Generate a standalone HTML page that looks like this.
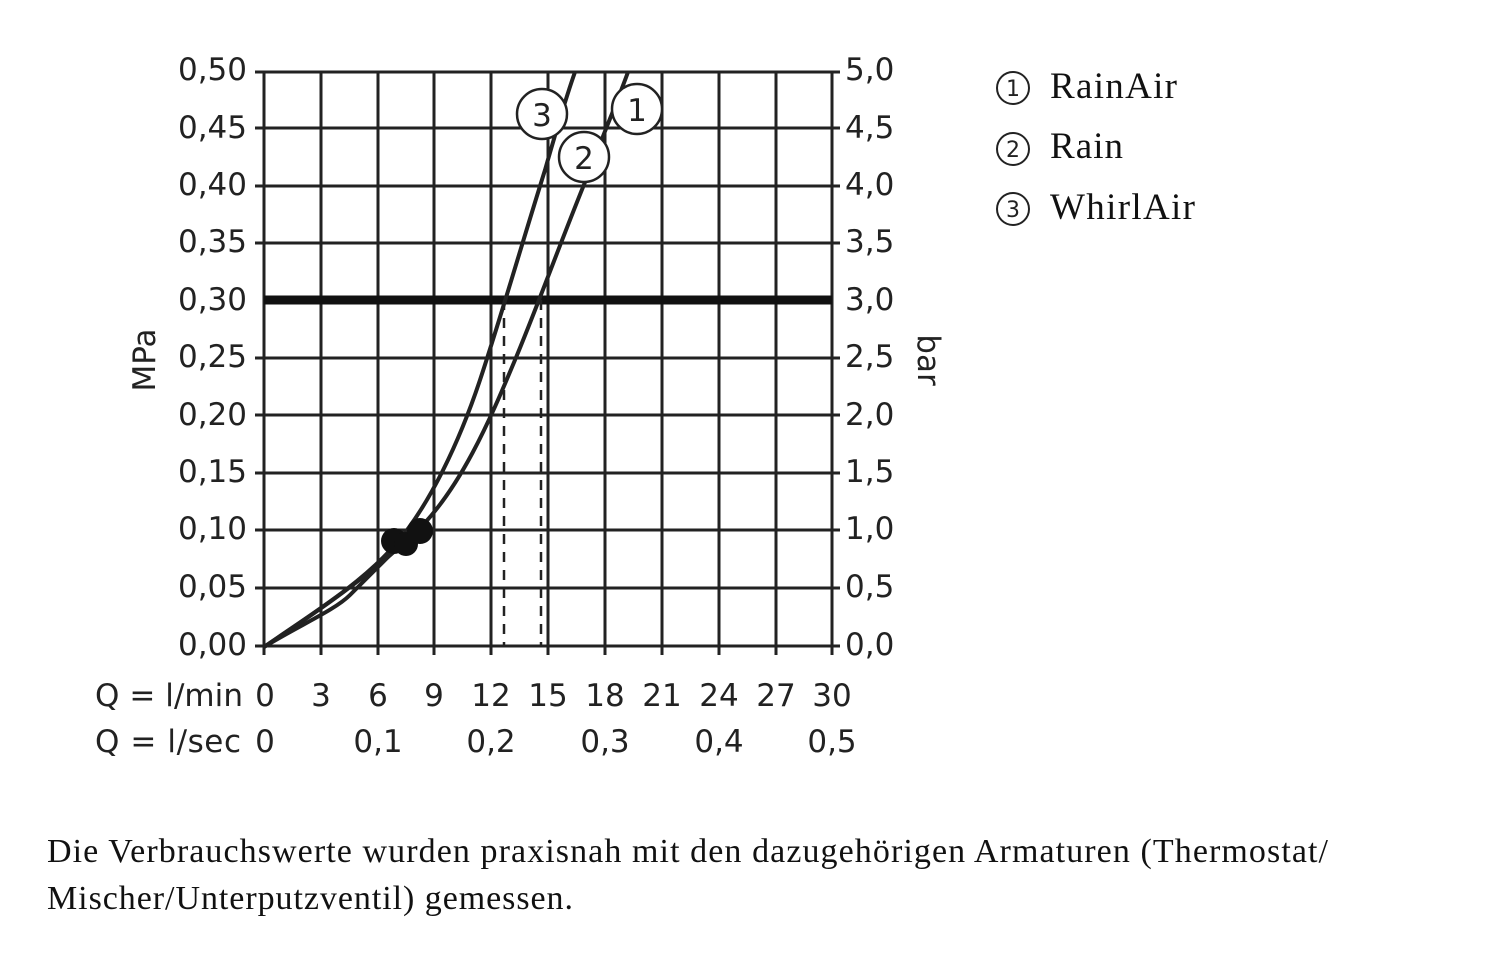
<!DOCTYPE html>
<html><head><meta charset="utf-8"><style>
body{margin:0;background:#fff;width:1500px;height:956px;overflow:hidden}
svg{position:absolute;left:0;top:0}
.t{font-family:"DejaVu Sans","Liberation Sans",sans-serif;font-size:31px;fill:#222}
.s{font-family:"Liberation Serif",serif;font-size:37px;fill:#111}
</style></head><body>
<svg width="1500" height="956" viewBox="0 0 1500 956">
<g stroke="#222" stroke-width="3" fill="none">
<path d="M264 72V655M321 72V655M378 72V655M434 72V655M491 72V655M548 72V655M605 72V655M662 72V655M719 72V655M776 72V655M832 72V655"/>
<path d="M255 72H840M255 128H840M255 186H840M255 243H840M255 358H840M255 415H840M255 473H840M255 530H840M255 588H840M255 646H840"/>
</g>
<path d="M264 300H832" stroke="#111" stroke-width="9"/>
<path d="M504 300V647M541 300V647" stroke="#222" stroke-width="2.5" stroke-dasharray="10,8"/>
<g stroke="#222" stroke-width="4" fill="none">
<path d="M264 647 C310 615 360 585 395 545 C430 505 460 440 480 380 C500 320 520 250 545 170 C555 135 565 100 575 72"/>
<path d="M264 647 C320 610 370 575 415 533 C460 490 490 420 515 360 C540 300 565 230 590 170 C605 130 618 100 628 72"/>
<path d="M264 647 C300 625 335 610 350 595 C370 575 385 560 405 540"/>
</g>
<circle cx="394" cy="541" r="13" fill="#111"/><circle cx="406" cy="544" r="12" fill="#111"/><circle cx="420" cy="531" r="13" fill="#111"/>
<g fill="#fff" stroke="#222" stroke-width="2.5">
<circle cx="542" cy="114" r="25"/><circle cx="637" cy="109" r="25"/><circle cx="584" cy="157" r="25"/>
</g>
<g class="t" text-anchor="middle">
<text x="542" y="126">3</text><text x="637" y="121">1</text><text x="584" y="169">2</text>
</g>
<g class="t" text-anchor="end">
<text x="247" y="80">0,50</text><text x="247" y="138">0,45</text><text x="247" y="195">0,40</text><text x="247" y="252">0,35</text><text x="247" y="310">0,30</text><text x="247" y="367">0,25</text><text x="247" y="425">0,20</text><text x="247" y="482">0,15</text><text x="247" y="539">0,10</text><text x="247" y="597">0,05</text><text x="247" y="655">0,00</text>
</g>
<g class="t">
<text x="845" y="80">5,0</text><text x="845" y="138">4,5</text><text x="845" y="195">4,0</text><text x="845" y="252">3,5</text><text x="845" y="310">3,0</text><text x="845" y="367">2,5</text><text x="845" y="425">2,0</text><text x="845" y="482">1,5</text><text x="845" y="539">1,0</text><text x="845" y="597">0,5</text><text x="845" y="655">0,0</text>
</g>
<text class="t" transform="translate(155,360) rotate(-90)" text-anchor="middle">MPa</text>
<text class="t" transform="translate(918,360) rotate(90)" text-anchor="middle">bar</text>
<g class="t" text-anchor="middle">
<text x="265" y="706">0</text><text x="321" y="706">3</text><text x="378" y="706">6</text><text x="434" y="706">9</text><text x="491" y="706">12</text><text x="548" y="706">15</text><text x="605" y="706">18</text><text x="662" y="706">21</text><text x="719" y="706">24</text><text x="776" y="706">27</text><text x="832" y="706">30</text>
<text x="265" y="752">0</text><text x="378" y="752">0,1</text><text x="491" y="752">0,2</text><text x="605" y="752">0,3</text><text x="719" y="752">0,4</text><text x="832" y="752">0,5</text>
</g>
<text class="t" x="95" y="706" textLength="148">Q = l/min</text>
<text class="t" x="95" y="752" textLength="146">Q = l/sec</text>
<g fill="none" stroke="#222" stroke-width="2"><circle cx="1013" cy="88" r="16"/><circle cx="1013" cy="149" r="16"/><circle cx="1013" cy="209" r="16"/></g>
<g font-family="DejaVu Sans,sans-serif" font-size="22" fill="#222" text-anchor="middle"><text x="1013" y="96">1</text><text x="1013" y="157">2</text><text x="1013" y="217">3</text></g>
<text class="s" x="1050" y="98" textLength="127">RainAir</text>
<text class="s" x="1050" y="158" textLength="73">Rain</text>
<text class="s" x="1050" y="219" textLength="145">WhirlAir</text>
<text font-family="Liberation Serif,serif" font-size="34" fill="#111" x="47" y="862" textLength="1281">Die Verbrauchswerte wurden praxisnah mit den dazugehörigen Armaturen (Thermostat/</text>
<text font-family="Liberation Serif,serif" font-size="34" fill="#111" x="47" y="909" textLength="526">Mischer/Unterputzventil) gemessen.</text>
</svg>
</body></html>
